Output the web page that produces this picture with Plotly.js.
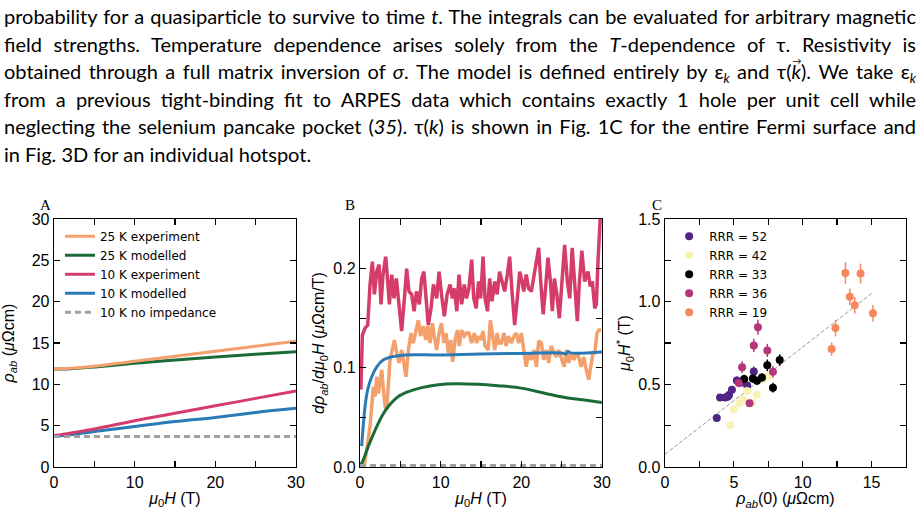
<!DOCTYPE html>
<html><head><meta charset="utf-8">
<script src="https://cdn.plot.ly/plotly-3.0.1.min.js"></script>
<style>
html,body{margin:0;padding:0;background:#fff;width:921px;height:512px;overflow:hidden}
#para{position:absolute;left:4px;top:3px;width:912px;font-family:Lato,sans-serif;font-size:20px;line-height:27.6px;color:#000;z-index:2}
#para div{text-align:justify;text-align-last:justify;height:27.6px}
#para div.last{text-align-last:left}
#para sub{font-size:13px;line-height:0;vertical-align:-4px}
.vec{position:relative;display:inline-block}
.vec .arr{position:absolute;left:1px;top:-11px;font-size:9px;font-style:normal}
#chart{position:absolute;left:0;top:0;width:921px;height:512px}
</style></head>
<body>
<div id="para">
<div>probability for a quasiparticle to survive to time <i>t</i>. The integrals can be evaluated for arbitrary magnetic</div>
<div>field strengths. Temperature dependence arises solely from the <i>T</i>-dependence of τ. Resistivity is</div>
<div>obtained through a full matrix inversion of <i>σ</i>. The model is defined entirely by ε<sub><i>k</i></sub> and τ(<span class="vec"><i>k</i><span class="arr">→</span></span>). We take ε<sub><i>k</i></sub></div>
<div>from a previous tight-binding fit to ARPES data which contains exactly 1 hole per unit cell while</div>
<div>neglecting the selenium pancake pocket (<i>35</i>). τ(<i>k</i>) is shown in Fig. 1C for the entire Fermi surface and</div>
<div class="last">in Fig. 3D for an individual hotspot.</div>
</div>
<div id="chart"></div>
<script>
// ---------- Panel A: resistivity vs field ----------
const fieldA = [0, 2, 5, 10, 15, 20, 25, 30];
const exp25A = [11.9, 11.95, 12.2, 12.8, 13.4, 14.0, 14.6, 15.2];
const mod25A = [11.85, 11.9, 12.1, 12.55, 12.95, 13.3, 13.65, 13.95];
const exp10A = [3.8, 4.1, 4.6, 5.6, 6.5, 7.4, 8.3, 9.2];
const mod10A = [3.75, 3.9, 4.3, 4.9, 5.5, 6.0, 6.6, 7.1];
const noImpA = [3.7, 3.7, 3.7, 3.7, 3.7, 3.7, 3.7, 3.7];

// ---------- Panel B: derivative ----------
const exp10B_x = [0.1,0.29,0.62,0.95,1.24,1.53,1.78,2.07,2.36,2.6,2.85,3.18,3.43,3.64,3.93,4.21,4.5,4.83,5.16,5.5,5.78,6.07,6.4,6.7,7.0,7.35,7.64,7.92,8.18,8.46,8.8,9.1,9.5,9.8,10.1,10.45,10.8,11.16,11.45,11.7,12.0,12.27,12.6,12.93,13.2,13.5,13.84,14.1,14.4,14.7,14.96,15.25,15.5,15.8,16.07,16.36,16.7,17.0,17.3,17.6,17.93,18.26,18.55,18.84,19.17,19.5,19.8,20.08,20.3,20.6,20.9,21.24,21.57,21.86,22.15,22.4,22.7,23.0,23.3,23.6,23.84,24.1,24.4,24.71,25.04,25.37,25.7,26.0,26.3,26.6,26.94,27.2,27.5,27.85,28.26,28.55,28.8,29.1,29.3,29.5,29.7,29.9];
const exp10B_y = [0.078,0.133,0.14,0.143,0.184,0.207,0.174,0.197,0.204,0.164,0.194,0.212,0.187,0.164,0.194,0.170,0.19,0.167,0.137,0.17,0.2,0.177,0.174,0.157,0.177,0.164,0.19,0.197,0.167,0.143,0.16,0.184,0.17,0.197,0.174,0.152,0.174,0.184,0.17,0.18,0.157,0.194,0.164,0.184,0.17,0.18,0.209,0.17,0.16,0.187,0.17,0.212,0.17,0.157,0.19,0.167,0.187,0.174,0.197,0.187,0.177,0.194,0.212,0.177,0.143,0.17,0.197,0.187,0.177,0.194,0.18,0.177,0.194,0.207,0.221,0.187,0.154,0.18,0.211,0.187,0.157,0.19,0.174,0.15,0.194,0.224,0.187,0.17,0.221,0.187,0.147,0.187,0.218,0.187,0.197,0.182,0.187,0.16,0.164,0.207,0.251,0.27];
const exp25B_x = [0.3,0.62,0.95,1.24,1.45,1.65,1.86,2.07,2.27,2.48,2.69,2.9,3.1,3.3,3.5,3.72,4.0,4.26,4.55,4.83,5.16,5.45,5.7,6.0,6.32,6.6,6.9,7.23,7.5,7.85,8.14,8.39,8.68,8.97,9.2,9.5,9.8,10.1,10.4,10.66,10.95,11.24,11.49,11.78,12.07,12.3,12.6,12.93,13.2,13.5,13.84,14.17,14.46,14.75,14.96,15.25,15.5,15.9,16.16,16.4,16.7,17.0,17.2,17.5,17.85,18.1,18.4,18.76,19.09,19.38,19.67,20.0,20.33,20.6,20.9,21.24,21.57,21.86,22.15,22.48,22.77,23.1,23.39,23.7,24.05,24.34,24.63,24.96,25.3,25.58,25.87,26.2,26.53,26.8,27.1,27.4,27.73,28.05,28.35,28.6,28.88,29.1,29.38,29.6,29.9];
const exp25B_y = [-0.01,0.01,0.024,0.041,0.064,0.081,0.071,0.091,0.074,0.088,0.098,0.078,0.061,0.058,0.078,0.108,0.118,0.128,0.115,0.105,0.118,0.101,0.091,0.118,0.135,0.125,0.135,0.148,0.132,0.142,0.128,0.142,0.125,0.145,0.132,0.118,0.135,0.145,0.125,0.135,0.115,0.128,0.106,0.128,0.138,0.122,0.138,0.132,0.135,0.135,0.125,0.135,0.125,0.132,0.128,0.137,0.122,0.118,0.148,0.135,0.118,0.135,0.125,0.125,0.135,0.122,0.132,0.125,0.132,0.135,0.125,0.135,0.115,0.101,0.115,0.108,0.118,0.101,0.127,0.125,0.108,0.118,0.105,0.122,0.115,0.111,0.118,0.108,0.101,0.118,0.105,0.115,0.108,0.115,0.111,0.101,0.111,0.098,0.088,0.101,0.115,0.115,0.135,0.138,0.138];
const mod10B_x = [0.2,0.42,0.62,0.95,1.45,2.07,2.9,3.93,5.6,9.7,14.9,20,25,25.5,25.8,26.1,30];
const mod10B_y = [0.021,0.044,0.061,0.078,0.091,0.101,0.108,0.111,0.113,0.113,0.114,0.1145,0.115,0.114,0.1165,0.115,0.116];
const mod25B_x = [0,0.21,1.03,1.86,2.69,3.5,4.75,6.0,7.64,9.7,11.8,14.6,17.1,20,22.9,25.4,27.6,30];
const mod25B_y = [0.003,0.004,0.021,0.037,0.051,0.061,0.071,0.076,0.080,0.083,0.084,0.0835,0.082,0.0795,0.0744,0.070,0.0677,0.065];
const noImpB_x = [0, 30];
const noImpB_y = [0.0015, 0.0015];

// ---------- Panel C: crossover field vs residual resistivity ----------
const rrrLabels = ['RRR = 52', 'RRR = 42', 'RRR = 33', 'RRR = 36', 'RRR = 19'];
const rrrColors = ['#4f2683', '#f8f3b5', '#000000', '#b5367a', '#f6875f'];
const rho52 = [3.76,4.0,4.37,4.55,4.65,4.86,5.22,5.5,5.97,6.45];
const h52   = [0.296,0.42,0.42,0.425,0.435,0.467,0.523,0.51,0.493,0.578];
const e52   = [0.02,0.02,0.02,0.02,0.02,0.02,0.025,0.02,0.02,0.03];
const rho42 = [4.73,5.0,5.4,5.64,5.95,6.3,6.67,7.1,7.55];
const h42   = [0.254,0.35,0.385,0.41,0.46,0.39,0.437,0.53,0.55];
const e42   = [0.015,0.015,0.015,0.015,0.015,0.015,0.02,0.02,0.02];
const rho33 = [5.75,6.38,6.68,7.04,7.43,7.84,8.33];
const h33   = [0.533,0.535,0.521,0.542,0.615,0.48,0.647];
const e33   = [0.025,0.025,0.025,0.025,0.035,0.03,0.035];
const rho36 = [5.36,5.6,6.14,6.45,6.75,7.43,7.84];
const h36   = [0.508,0.604,0.385,0.735,0.845,0.705,0.576];
const e36   = [0.025,0.035,0.02,0.04,0.045,0.04,0.035];
const rho19 = [12.1,12.38,13.1,13.42,13.78,14.2,15.1];
const h19   = [0.713,0.84,1.174,1.03,0.978,1.17,0.93];
const e19   = [0.04,0.05,0.065,0.05,0.05,0.06,0.05];
const fitX = [0, 15];
const fitY = [0.077, 1.05];

const cOr = '#f4a06c', cGr = '#1b6b38', cPk = '#d63c6a', cBl = '#2a7ab8', cGy = '#a0a0a0';

const traces = [];
// A
traces.push({x:fieldA, y:mod25A, type:'scatter', mode:'lines', line:{color:cGr, width:3, shape:'spline'}, name:'25 K modelled', legend:'legend', legendrank:2, xaxis:'x', yaxis:'y'});
traces.push({x:fieldA, y:exp25A, type:'scatter', mode:'lines', line:{color:cOr, width:3, shape:'spline'}, name:'25 K experiment', legend:'legend', legendrank:1, xaxis:'x', yaxis:'y'});
traces.push({x:fieldA, y:mod10A, type:'scatter', mode:'lines', line:{color:cBl, width:3, shape:'spline'}, name:'10 K modelled', legend:'legend', legendrank:4, xaxis:'x', yaxis:'y'});
traces.push({x:fieldA, y:exp10A, type:'scatter', mode:'lines', line:{color:cPk, width:3, shape:'spline'}, name:'10 K experiment', legend:'legend', legendrank:3, xaxis:'x', yaxis:'y'});
traces.push({x:fieldA, y:noImpA, type:'scatter', mode:'lines', line:{color:cGy, width:3, dash:'6px,4px'}, name:'10 K no impedance', legend:'legend', legendrank:5, xaxis:'x', yaxis:'y'});
// B
traces.push({x:exp25B_x, y:exp25B_y, type:'scatter', mode:'lines', line:{color:cOr, width:3.5}, showlegend:false, xaxis:'x2', yaxis:'y2'});
traces.push({x:exp10B_x, y:exp10B_y, type:'scatter', mode:'lines', line:{color:cPk, width:3.5}, showlegend:false, xaxis:'x2', yaxis:'y2'});
traces.push({x:mod25B_x, y:mod25B_y, type:'scatter', mode:'lines', line:{color:cGr, width:3, shape:'spline'}, showlegend:false, xaxis:'x2', yaxis:'y2'});
traces.push({x:mod10B_x, y:mod10B_y, type:'scatter', mode:'lines', line:{color:cBl, width:3, shape:'spline'}, showlegend:false, xaxis:'x2', yaxis:'y2'});
traces.push({x:noImpB_x, y:noImpB_y, type:'scatter', mode:'lines', line:{color:cGy, width:3, dash:'6px,4px'}, showlegend:false, xaxis:'x2', yaxis:'y2'});
// C
traces.push({x:fitX, y:fitY, type:'scatter', mode:'lines', line:{color:'#999', width:1, dash:'4px,2px'}, showlegend:false, xaxis:'x3', yaxis:'y3'});
const cx = [rho52, rho42, rho33, rho36, rho19];
const cy = [h52, h42, h33, h36, h19];
const ce = [e52, e42, e33, e36, e19];
for (let i = 0; i < 5; i++) {
  traces.push({x:cx[i], y:cy[i], type:'scatter', mode:'markers', name:rrrLabels[i], legend:'legend2',
    marker:{color:rrrColors[i], size:8}, error_y:{type:'data', array:ce[i], visible:true, color:rrrColors[i], thickness:1.5, width:0},
    xaxis:'x3', yaxis:'y3'});
}

function ax(extra) {
  return Object.assign({showline:true, linecolor:'#000', linewidth:1.3, mirror:'allticks', ticks:'inside', ticklen:6, tickwidth:1.3, tickcolor:'#000',
    showgrid:false, zeroline:false, tickfont:{size:16, color:'#000'}}, extra);
}
function mnr(d) { return {dtick:d, ticks:'inside', ticklen:6, tickwidth:1.3, tickcolor:'#000', showgrid:false}; }
const tf = {size:16, color:'#000'};

const layout = {
  width:921, height:512,
  margin:{l:54, r:15, t:219, b:45},
  paper_bgcolor:'rgba(0,0,0,0)', plot_bgcolor:'rgba(0,0,0,0)',
  font:{family:'"Liberation Sans", Arial, sans-serif', size:16, color:'#000'},
  showlegend:true,
  xaxis: ax({domain:[0,0.284], anchor:'y', range:[0,30], dtick:10, tick0:0, minor:mnr(5), title:{text:'<i>μ</i><sub>0</sub><i>H</i> (T)', font:tf, standoff:3}}),
  yaxis: ax({domain:[0,1], anchor:'x', range:[0,30], dtick:5, tick0:0, title:{text:'<i>ρ</i><sub><i>ab</i></sub> (<i>μ</i>Ωcm)', font:tf}}),
  xaxis2: ax({domain:[0.3592,0.6432], anchor:'y2', range:[0,30], dtick:10, tick0:0, minor:mnr(5), title:{text:'<i>μ</i><sub>0</sub><i>H</i> (T)', font:tf, standoff:3}}),
  yaxis2: ax({domain:[0,1], anchor:'x2', range:[0,0.25], dtick:0.1, tick0:0, tickformat:'.1f', minor:mnr(0.05), title:{text:'<i>dρ</i><sub><i>ab</i></sub>/<i>dμ</i><sub>0</sub><i>H</i> (<i>μ</i>Ωcm/T)', font:tf, standoff:4}}),
  xaxis3: ax({domain:[0.7171,1], anchor:'y3', range:[0,17.5], dtick:5, tick0:0, minor:mnr(2.5), title:{text:'<i>ρ</i><sub><i>ab</i></sub>(0) (<i>μ</i>Ωcm)', font:tf, standoff:3}}),
  yaxis3: ax({domain:[0,1], anchor:'x3', range:[0,1.5], dtick:0.5, tick0:0, tickformat:'.1f', minor:mnr(0.25), title:{text:'<i>μ</i><sub>0</sub><i>H</i><sup>*</sup> (T)', font:tf, standoff:3}}),
  legend:{x:0.007, y:0.989, xanchor:'left', yanchor:'top', bgcolor:'rgba(0,0,0,0)', font:{family:'"DejaVu Sans", sans-serif', size:12}, traceorder:'normal'},
  legend2:{x:0.722, y:0.989, xanchor:'left', yanchor:'top', bgcolor:'rgba(0,0,0,0)', font:{family:'"DejaVu Sans", sans-serif', size:12}},
  annotations:[
    {text:'A', xref:'paper', yref:'paper', x:(45-54)/852, y:(467-205)/248, xanchor:'center', yanchor:'middle', showarrow:false, font:{family:'"Liberation Serif", serif', size:15}},
    {text:'B', xref:'paper', yref:'paper', x:(350-54)/852, y:(467-205)/248, xanchor:'center', yanchor:'middle', showarrow:false, font:{family:'"Liberation Serif", serif', size:15}},
    {text:'C', xref:'paper', yref:'paper', x:(657-54)/852, y:(467-205)/248, xanchor:'center', yanchor:'middle', showarrow:false, font:{family:'"Liberation Serif", serif', size:15}}
  ]
};
Plotly.newPlot('chart', traces, layout, {displayModeBar:false, staticPlot:true});
</script>
</body></html>
